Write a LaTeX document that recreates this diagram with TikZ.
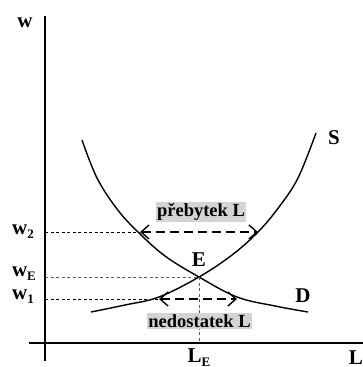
\documentclass[tikz,border=0pt]{standalone}
\usepackage{fontspec}
\setmainfont{Liberation Serif}
\usetikzlibrary{arrows.meta}
\definecolor{boxgray}{RGB}{212,212,212}
\definecolor{guidegray}{RGB}{90,90,90}
\newcommand{\lsub}[1]{\raisebox{-0.4ex}{\fontsize{13}{13}\selectfont #1}}
\begin{document}
\begin{tikzpicture}[x=1pt,y=-1pt,
  axis/.style={line width=1.4pt},
  curve/.style={line width=1.4pt},
  guide/.style={line width=0.7pt, dash pattern=on 3pt off 2.5pt},
  guideg/.style={guide, draw=guidegray},
  shiftarrow/.style={line width=1.8pt, dash pattern=on 9pt off 5pt,
    {Straight Barb[length=8pt,width=14pt,line width=1.4pt]}-{Straight Barb[length=8pt,width=14pt,line width=1.4pt]}},
  lab/.style={font=\fontsize{21}{21}\selectfont\bfseries, inner sep=0pt},
  boxlab/.style={font=\fontsize{18.5}{20}\selectfont\bfseries, fill=boxgray, inner xsep=1pt, inner ysep=1pt}]
\useasboundingbox (0,0) rectangle (363,367);

% axes
\coordinate (ytop) at (45,16);
\coordinate (ybot) at (45,361);
\coordinate (xleft) at (29,343);
\coordinate (xright) at (363,343);
\draw[axis] (ybot) -- (ytop);
\draw[axis] (xleft) -- (xright);

% key points
\coordinate (E) at (199,277);
\coordinate (w2a) at (45,232);
\coordinate (w2l) at (140,232);
\coordinate (w2r) at (258,232);
\coordinate (wEa) at (45,277);
\coordinate (w1a) at (45,299);
\coordinate (w1l) at (159,299);
\coordinate (w1r) at (237,299);
\coordinate (LEa) at (199,343);

% demand curve
\draw[curve] plot[smooth, tension=0.6] coordinates
  {(82,140) (97,178) (117,209) (138,232) (165,256) (199,277) (237,297) (275,306) (308,312)};
% supply curve
\draw[curve] plot[smooth, tension=0.6] coordinates
  {(91,312) (125,305) (159,297) (199,277) (232,255) (258,232) (279,207) (298,178) (316,133)};

% guides
\draw[guide] (w2a) -- (w2l);
\draw[guideg] (wEa) -- (E);
\draw[guide] (w1a) -- (w1l);
\draw[guideg] (E) -- (LEa);

% boxes
\node[boxlab] (pre) at (201,212) {přebytek L};
\node[boxlab] (ned) at (199.5,321) {nedostatek L};

% shift arrows
\draw[shiftarrow] (w2l) -- (w2r);
\draw[shiftarrow] (w1l) -- (w1r);

% labels
\node[lab] (wlab) at (25,23) {w};
\node[lab] (w2lab) at (23,232) {w\lsub{2}};
\node[lab] (wElab) at (24,274) {w\lsub{E}};
\node[lab] (w1lab) at (23,297) {w\lsub{1}};
\node[lab] (Elab) at (199,260) {E};
\node[lab] (Slab) at (334,138) {S};
\node[lab] (Dlab) at (303,296) {D};
\node[lab] (LElab) at (199,358) {L\lsub{E}};
\node[lab] (Llab) at (356,358) {L};
\end{tikzpicture}
\end{document}
